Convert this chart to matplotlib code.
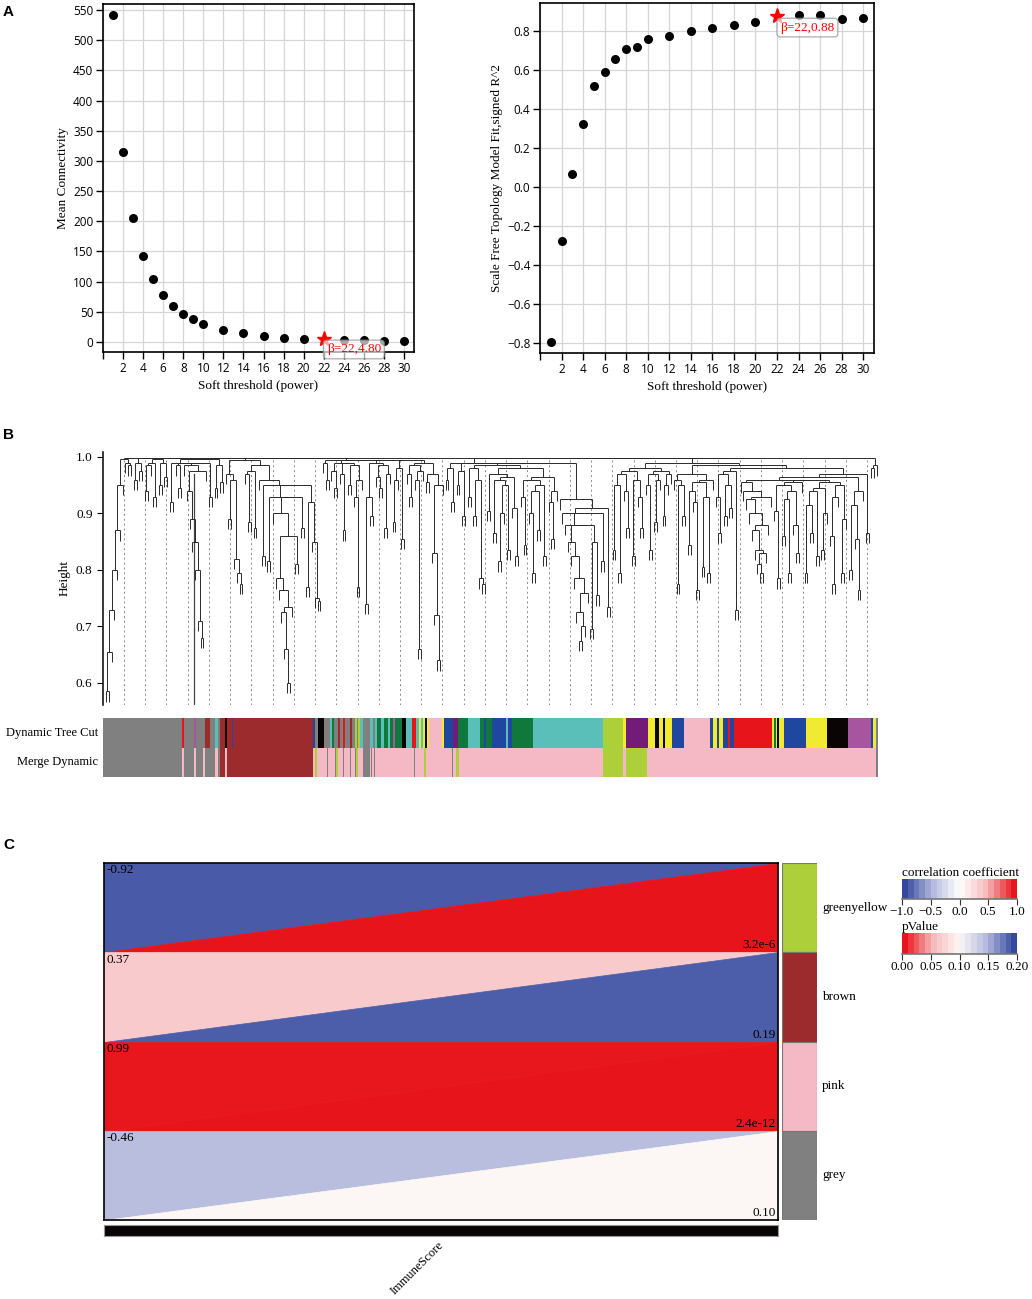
import numpy as np
import matplotlib
matplotlib.use('Agg')
import matplotlib as mpl
import matplotlib.pyplot as plt
from matplotlib.collections import LineCollection
from matplotlib.patches import Polygon
from matplotlib.colors import LinearSegmentedColormap, Normalize

W, H = 1032, 1299
SERIF = 'Liberation Serif'
SANS = 'Open Sans'

#%% Data - A: soft threshold
powers = np.array([1, 2, 3, 4, 5, 6, 7, 8, 9, 10, 12, 14, 16, 18, 20, 22, 24, 26, 28, 30])
mean_k = np.array([542, 315, 205, 142.5, 104, 78, 59.6, 46.9, 37.5, 30.4,
                   20.4, 14.4, 9.9, 7.2, 5.5, 4.80, 3.5, 2.8, 2.2, 1.7])
sft_r2 = np.array([-0.795, -0.276, 0.069, 0.322, 0.52, 0.592, 0.657, 0.706, 0.718, 0.757,
                   0.776, 0.80, 0.815, 0.832, 0.848, 0.875, 0.88, 0.884, 0.862, 0.867])
best_power = 22
best_k_label = 4.80
best_r2_label = 0.88

#%% Data - B: dendrogram merge heights between neighbouring genes, block by block
tree_blocks = [
    [0.585, 0.655, 0.73, 0.80, 0.87, 0.95],
    [0.99, 0.985, 0.998, 0.96, 0.99, 0.975, 0.998, 0.94, 0.985, 0.99, 0.93,
     0.997, 0.95, 0.99, 0.965, 0.998, 0.92, 0.99, 0.985, 0.945, 0.99],
    [0.94, 0.89, 0.85, 0.80, 0.71, 0.68],
    [0.99, 0.93, 0.996, 0.945, 0.985, 0.955, 0.998, 0.97, 0.89, 0.96, 0.82, 0.795, 0.775],
    [0.97, 0.885, 0.975, 0.875, 0.985, 0.96, 0.825, 0.95, 0.815, 0.93, 0.90, 0.785,
     0.765, 0.725, 0.66, 0.60, 0.735, 0.86, 0.81, 0.93, 0.875, 0.95, 0.77, 0.92, 0.85, 0.75, 0.745],
    [0.99, 0.96, 0.995, 0.975, 0.945, 0.99, 0.97, 0.87, 0.99, 0.95, 0.985, 0.93, 0.77,
     0.96, 0.995, 0.74, 0.93, 0.895, 0.99, 0.965, 0.945, 0.985, 0.875, 0.97, 0.995, 0.885,
     0.96, 0.98, 0.855, 0.995, 0.97, 0.93, 0.985, 0.96, 0.66, 0.975, 0.99, 0.955, 0.97,
     0.83, 0.72, 0.64, 0.95],
    [0.96, 0.98, 0.92, 0.99, 0.95, 0.975, 0.895],
    [0.93, 0.98, 0.895, 0.96, 0.785, 0.775],
    [0.905, 0.97, 0.865, 0.96, 0.815, 0.9, 0.95, 0.835, 0.965, 0.91, 0.825],
    [0.93, 0.845, 0.96, 0.90, 0.795, 0.94, 0.87, 0.95, 0.825, 0.965, 0.92, 0.855, 0.94],
    [0.925, 0.90, 0.88, 0.85, 0.825, 0.785, 0.725, 0.675, 0.70, 0.76, 0.88, 0.695,
     0.85, 0.755, 0.90, 0.815, 0.91, 0.735],
    [0.835, 0.95, 0.795, 0.97, 0.94, 0.875, 0.975, 0.825, 0.96, 0.93, 0.875, 0.98,
     0.95, 0.835, 0.97, 0.885, 0.96, 0.975, 0.895, 0.95, 0.97],
    [0.96, 0.775, 0.95, 0.895, 0.97, 0.845, 0.94, 0.92, 0.765, 0.955, 0.805, 0.93, 0.795, 0.96],
    [0.93, 0.865, 0.97, 0.895, 0.95, 0.91, 0.975, 0.73],
    [0.955, 0.94, 0.925, 0.90, 0.87, 0.835, 0.81, 0.795, 0.83, 0.88, 0.93,
     0.96, 0.905, 0.785, 0.95, 0.86, 0.925, 0.795, 0.94, 0.88, 0.83, 0.955,
     0.96, 0.795, 0.915, 0.865, 0.94, 0.825, 0.945, 0.835, 0.90, 0.955, 0.86, 0.775, 0.93,
     0.95, 0.795, 0.89, 0.965, 0.80, 0.915, 0.855, 0.765, 0.94, 0.97, 0.865],
    [0.98, 0.985],
]
block_joins = [0.997, 0.985, 0.975, 0.995, 0.998, 0.999, 0.99, 0.985, 0.98, 0.99,
               0.998, 0.99, 0.985, 0.98, 0.999]
leaf_hang = 0.018

# module colour blocks along the gene order (x from 0 to 777)
tree_cut = [
    (0, 79, 'grey'), (79, 80.5, 'red'), (80.5, 91, 'grey'), (91, 93, 'magenta'),
    (93, 102, 'grey'), (102, 107, 'brown'), (107, 112, 'grey'), (112, 115, 'turquoise'),
    (115, 117, 'grey'), (117, 122, 'brown'), (122, 124, 'black'), (124, 129, 'brown'),
    (129, 130, 'blue'), (130, 210, 'brown'), (210, 211.5, 'blue'), (211.5, 215, 'grey'),
    (215, 221, 'black'), (221, 227, 'grey'), (227, 229, 'turquoise'), (229, 231, 'green'),
    (231, 235, 'grey'), (235, 237, 'brown'), (237, 240, 'grey'), (240, 242, 'red'),
    (242, 247, 'grey'), (247, 249, 'brown'), (249, 252, 'grey'), (252, 254, 'greenyellow'),
    (254, 255, 'grey'), (255, 257, 'greenyellow'), (257, 260, 'turquoise'), (260, 267, 'grey'),
    (267, 270, 'turquoise'), (270, 272, 'grey'), (272, 274, 'turquoise'), (274, 278, 'green'),
    (278, 281, 'turquoise'), (281, 285, 'green'), (285, 287, 'turquoise'), (287, 290, 'green'),
    (290, 292, 'magenta'), (292, 299, 'green'), (299, 303, 'black'), (303, 309, 'turquoise'),
    (309, 313, 'red'), (313, 316, 'turquoise'), (316, 318, 'yellow'), (318, 320, 'turquoise'),
    (320, 322, 'yellow'), (322, 324, 'black'), (324, 326, 'yellow'), (326, 339, 'pink'),
    (339, 341, 'yellow'), (341, 350, 'blue'), (350, 355, 'purple'), (355, 365, 'green'),
    (365, 377, 'turquoise'), (377, 381, 'green'), (381, 383, 'blue'), (383, 389, 'green'),
    (389, 403, 'blue'), (403, 405, 'turquoise'), (405, 409, 'blue'), (409, 430, 'green'),
    (430, 500, 'turquoise'), (500, 520, 'greenyellow'), (520, 523, 'yellow'), (523, 545, 'purple'),
    (545, 552, 'yellow'), (552, 556, 'black'), (556, 560, 'yellow'), (560, 562, 'black'),
    (562, 569, 'yellow'), (569, 581, 'blue'), (581, 607, 'pink'), (607, 610, 'blue'),
    (610, 614, 'yellow'), (614, 616, 'blue'), (616, 620, 'yellow'), (620, 625, 'blue'),
    (625, 627, 'red'), (627, 631, 'blue'), (631, 669, 'red'), (669, 671, 'yellow'),
    (671, 672.5, 'green'), (672.5, 674, 'yellow'), (674, 676, 'black'), (676, 681, 'yellow'),
    (681, 703, 'blue'), (703, 724, 'yellow'), (724, 745, 'black'), (745, 768, 'magenta'),
    (768, 770, 'blue'), (770, 773, 'yellow'), (773, 775, 'grey'),
]
merge_dynamic = [
    (0, 79, 'grey'), (79, 80.5, 'pink'), (80.5, 91, 'grey'), (91, 93, 'pink'),
    (93, 100, 'grey'), (100, 102, 'pink'), (102, 112, 'grey'), (112, 115, 'pink'),
    (115, 117, 'grey'), (117, 122, 'brown'), (122, 124, 'pink'), (124, 210, 'brown'),
    (210, 773, 'pink'), (212, 213.5, 'greenyellow'), (223.5, 225, 'grey'), (231.5, 233, 'grey'),
    (233, 234.5, 'greenyellow'), (239.5, 241, 'grey'), (246.5, 248, 'grey'), (251.5, 253, 'grey'),
    (253, 254.5, 'greenyellow'), (260, 267, 'grey'), (268, 269, 'grey'), (271, 272, 'grey'),
    (311, 312, 'grey'), (321, 322.5, 'greenyellow'), (349, 350, 'grey'),
    (353, 355.5, 'greenyellow'), (500, 520, 'greenyellow'), (523, 544, 'greenyellow'),
    (773, 775, 'grey'),
]
wgcna_colors = {'grey': '#808080', 'brown': '#9B2B2D', 'pink': '#F5B9C6',
                'greenyellow': '#ADCF3A', 'turquoise': '#5BBFB9', 'blue': '#1F47A0',
                'green': '#10783A', 'yellow': '#F1EA33', 'black': '#0A0405',
                'red': '#E8141C', 'purple': '#731C77', 'magenta': '#A8559F'}

#%% Data - C: module-trait relationship
modules = ['greenyellow', 'brown', 'pink', 'grey']
trait = 'ImmuneScore'
corr = [-0.92, 0.37, 0.99, -0.46]
pvals = [3.2e-6, 0.19, 2.4e-12, 0.10]

#%% Figure
fig = plt.figure(figsize=(W / 100, H / 100), dpi=100)


def px_axes(x0, y0, x1, y1):
    return fig.add_axes([x0 / W, 1 - y1 / H, (x1 - x0) / W, (y1 - y0) / H])


def style_sft(ax):
    ax.set_xlim(0, 31)
    ax.set_xticks(range(0, 31, 2))
    ax.set_xticklabels([''] + [str(v) for v in range(2, 31, 2)])
    ax.grid(True, color='#d6d6d6', lw=0.9)
    ax.set_axisbelow(True)
    for s in ax.spines.values():
        s.set_linewidth(1.2)
    ax.tick_params(labelsize=8.5, length=5, width=1, pad=2)
    for lab in ax.get_xticklabels() + ax.get_yticklabels():
        lab.set_fontfamily(SANS)
    ax.set_xlabel('Soft threshold (power)', family=SERIF, fontsize=9.5, labelpad=4)


box = dict(boxstyle='round,pad=0.25', fc='white', ec='#8c8c8c', alpha=0.65)
others = powers != best_power

# A left
ax = px_axes(103, 4, 414, 352)
ax.scatter(powers[others], mean_k[others], s=30, c='black', zorder=3)
ax.plot(powers[~others], mean_k[~others], '*', color='red', ms=11, zorder=4)
ax.set_ylim(-16.6, 560)
ax.set_yticks(range(0, 551, 50))
style_sft(ax)
ax.set_ylabel('Mean Connectivity', family=SERIF, fontsize=9.5, labelpad=3)
ax.text(best_power + 0.3, -12.4, f'β={best_power},{best_k_label:.2f}', color='red',
        family=SERIF, fontsize=9.5, ha='left', va='center', bbox=box, zorder=5, clip_on=False)

# A right
ax = px_axes(540, 3, 874, 353)
ax.scatter(powers[others], sft_r2[others], s=30, c='black', zorder=3)
ax.plot(powers[~others], sft_r2[~others], '*', color='red', ms=11, zorder=4)
ax.set_ylim(-0.85, 0.944)
ax.set_yticks(np.round(np.arange(-0.8, 0.81, 0.2), 1))
style_sft(ax)
ax.set_ylabel('Scale Free Topology Model Fit,signed R^2', family=SERIF, fontsize=9.5, labelpad=3)
ax.text(best_power + 0.3, 0.818, f'β={best_power},{best_r2_label:.2f}', color='red',
        family=SERIF, fontsize=9.5, ha='left', va='center', bbox=box, zorder=5, clip_on=False)

# B dendrogram
gaps = []
for i, blk in enumerate(tree_blocks):
    gaps += blk
    if i < len(block_joins):
        gaps.append(block_joins[i])
gaps = np.array(gaps)
leaf_x = np.linspace(3, 774, len(gaps) + 1)
segs = []


def build(a, b):
    if a == b:
        return leaf_x[a], None
    k = a + int(np.argmax(gaps[a:b]))
    h = gaps[k]
    xl, hl = build(a, k)
    xr, hr = build(k + 1, b)
    for x, hc in ((xl, hl), (xr, hr)):
        segs.append([(x, h - leaf_hang if hc is None else hc), (x, h)])
    segs.append([(xl, h), (xr, h)])
    return (xl + xr) / 2, h


build(0, len(leaf_x) - 1)

ax = px_axes(103, 452, 880, 705)
ax.set_xlim(0, 777)
ax.set_ylim(0.561, 1.0088)
for gx in 21 + 21.23 * np.arange(36):
    ax.plot([gx, gx], [0.561, 0.995], ls=(0, (2, 3)), color='#8a8a8a', lw=0.7, zorder=1)
ax.plot([91, 91], [0.561, 0.97], color='#444444', lw=0.9, zorder=1)
ax.add_collection(LineCollection(segs, colors='#2a2a2a', linewidths=0.7, zorder=2))
ax.set_xticks([])
for s in ['top', 'right', 'bottom']:
    ax.spines[s].set_visible(False)
ax.spines['left'].set_linewidth(1.1)
ax.set_yticks([0.6, 0.7, 0.8, 0.9, 1.0])
ax.set_yticklabels(['0.6', '0.7', '0.8', '0.9', '1.0'], family=SERIF, fontsize=9.5)
ax.tick_params(axis='y', length=4)
ax.set_ylabel('Height', family=SERIF, fontsize=9.5)

ax = px_axes(103, 718, 880, 777)
ax.set_xlim(0, 777)
ax.set_ylim(0, 2)
for row, blocks in ((1, tree_cut), (0, merge_dynamic)):
    for s0, s1, c in blocks:
        ax.broken_barh([(s0, s1 - s0)], (row, 1), facecolors=wgcna_colors[c])
ax.axis('off')
ax.text(-5, 1.5, 'Dynamic Tree Cut', ha='right', va='center', family=SERIF, fontsize=9)
ax.text(-5, 0.5, 'Merge Dynamic', ha='right', va='center', family=SERIF, fontsize=9)

# C heatmap
corr_cmap = LinearSegmentedColormap.from_list(
    'corr', [(0, '#34499E'), (0.25, '#B3B8DC'), (0.5, '#FFFFFF'), (0.75, '#F6B8BB'), (1, '#E8141C')])
p_cmap = LinearSegmentedColormap.from_list(
    'pval', [(0, '#E8141C'), (0.25, '#F6B8BB'), (0.5, '#FDF8F5'), (0.75, '#B3B8DC'), (1, '#34499E')])
corr_norm = Normalize(-1, 1)
p_norm = Normalize(0, 0.2)


def p_text(p):
    return f'{p:.1e}'.replace('e-0', 'e-') if p < 0.01 else f'{p:.2f}'


ax = px_axes(104, 863, 778, 1220)
ax.set_xlim(0, 1)
ax.set_ylim(0, len(modules))
for i, (r, p) in enumerate(zip(corr, pvals)):
    y0 = len(modules) - 1 - i
    c1 = corr_cmap(corr_norm(r))
    c2 = p_cmap(p_norm(p))
    ax.add_patch(Polygon([(0, y0), (0, y0 + 1), (1, y0 + 1)], fc=c1, ec=c1, lw=0.5))
    ax.add_patch(Polygon([(0, y0), (1, y0), (1, y0 + 1)], fc=c2, ec=c2, lw=0.5))
    ax.text(0.004, y0 + 0.985, f'{r:.2f}', ha='left', va='top', family=SERIF, fontsize=9.5)
    ax.text(0.997, y0 + 0.01, p_text(p), ha='right', va='bottom', family=SERIF, fontsize=9.5)
ax.set_xticks([])
ax.set_yticks([])
for s in ax.spines.values():
    s.set_linewidth(1.2)

ax = px_axes(104, 1225, 778, 1236)
ax.set_facecolor('#0A0405')
ax.set_xticks([])
ax.set_yticks([])
for s in ax.spines.values():
    s.set_color('#999999')
fig.text(442 / W, 1 - 1243 / H, trait, rotation=45, rotation_mode='anchor',
         ha='right', va='center', family=SERIF, fontsize=9)

ax = px_axes(782, 863, 817, 1220)
ax.set_xlim(0, 1)
ax.set_ylim(0, len(modules))
for i, m in enumerate(modules):
    y0 = len(modules) - 1 - i
    ax.bar(0.5, 1, bottom=y0, width=1, color=wgcna_colors[m], edgecolor='#777777', lw=0.8)
    ax.text(1.15, y0 + 0.5, m, ha='left', va='center', family=SERIF, fontsize=9.5)
ax.axis('off')

# colour legends
for (x0, y0, x1, y1), cmap, norm, ticks, title, fmt in (
        ((902, 879, 1017, 899), corr_cmap, corr_norm, [-1, -0.5, 0, 0.5, 1],
         'correlation coefficient', '{:.1f}'),
        ((902, 933, 1017, 954), p_cmap, p_norm, [0, 0.05, 0.1, 0.15, 0.2], 'pValue', '{:.2f}')):
    cax = px_axes(x0, y0, x1, y1)
    cb = mpl.colorbar.ColorbarBase(cax, cmap=cmap.resampled(20), norm=norm,
                                   orientation='horizontal', ticks=ticks)
    cb.outline.set_visible(False)
    cax.axhline(0, color='#777777', lw=1.2, clip_on=False)
    cax.tick_params(length=4, width=0.8, pad=1, color='#333333')
    cax.set_xticklabels([fmt.format(t).replace('-', '\u2212') for t in ticks],
                        family=SERIF, fontsize=9.5)
    cax.set_title(title, loc='left', family=SERIF, fontsize=9.5, pad=1)

# panel letters
for lab, y in (('A', 5), ('B', 428), ('C', 838)):
    fig.text(3 / W, 1 - y / H, lab, ha='left', va='top', family='Liberation Sans',
             fontweight='bold', fontsize=11)

fig.savefig('out.png', dpi=100)
